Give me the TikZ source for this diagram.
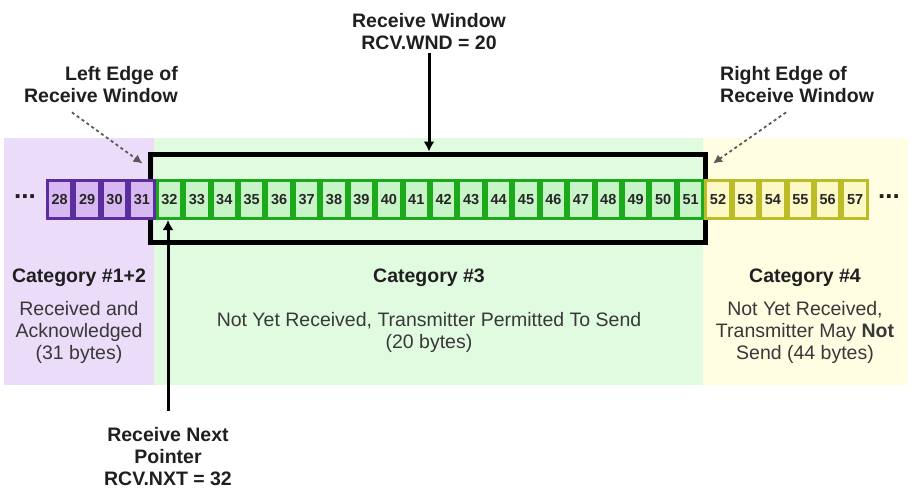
\documentclass[tikz,border=0pt]{standalone}
\usepackage{fontspec}
\setmainfont{Liberation Sans}
\usetikzlibrary{arrows.meta}

\definecolor{purpleback}{HTML}{EBDDF9}
\definecolor{greenback}{HTML}{E1FBE1}
\definecolor{yellowback}{HTML}{FFFDE2}
\definecolor{purpleline}{HTML}{5B2E9E}
\definecolor{purplecell}{HTML}{D8B8F2}
\definecolor{greenline}{HTML}{1CAA1C}
\definecolor{greencell}{HTML}{C8F5C8}
\definecolor{yellowline}{HTML}{BCBC28}
\definecolor{yellowcell}{HTML}{FCF9C6}

\tikzset{
	cell/.style={draw, line width=3pt, minimum width=24.4pt, minimum height=38pt, inner sep=0pt, text=black!85, font=\fontsize{14.5}{16}\selectfont\bfseries},
	boldtag/.style={inner sep=3pt, align=center, text=black!88, font=\fontsize{19.5}{22}\selectfont\bfseries},
	plaintext/.style={inner sep=3pt, align=center, text=black!78, font=\fontsize{19.5}{22}\selectfont},
	pointer/.style={line width=3pt, -{Latex[length=10pt,width=11pt]}},
	edgeptr/.style={line width=1.8pt, color=black!65, dash pattern=on 3pt off 3pt, -{Latex[length=9pt,width=9pt]}},
}

\begin{document}
\begin{tikzpicture}[x=1pt, y=-1pt]
		%%%%% START %%%%%
		
		\useasboundingbox (0,0) rectangle (921,501);
		\fill[white] (0,0) rectangle (921,501);
		
		\fill[purpleback] (4,138) rectangle (154,385);
		\fill[greenback] (154,138) rectangle (703,385);
		\fill[yellowback] (703,138) rectangle (908,385);
		
		\node[draw, line width=5pt, minimum width=555.5pt, minimum height=88pt, inner sep=0pt] (frame) at (427.75,198) {};
		
		\foreach \n in {28,...,31}
			\node[cell, draw=purpleline, fill=purplecell] (c\n) at ({59.7+(\n-28)*27.43}, 199.5) {\n};
		\foreach \n in {32,...,51}
			\node[cell, draw=greenline, fill=greencell] (c\n) at ({59.7+(\n-28)*27.43}, 199.5) {\n};
		\foreach \n in {52,...,57}
			\node[cell, draw=yellowline, fill=yellowcell] (c\n) at ({59.7+(\n-28)*27.43}, 199.5) {\n};
		
		\node[inner sep=0pt, text=black!88, font=\fontsize{26}{26}\selectfont\bfseries] (dotsleft) at (25,197) {...};
		\node[inner sep=0pt, text=black!88, font=\fontsize{26}{26}\selectfont\bfseries] (dotsright) at (889,197) {...};
		
		\node[boldtag] (wnd) at (429,32) {Receive Window\\RCV.WND = 20};
		\node[boldtag, align=right, anchor=east] (leftedge) at (181,85) {Left Edge of\\Receive Window};
		\node[boldtag, align=left, anchor=west] (rightedge) at (717,85) {Right Edge of\\Receive Window};
		\node[boldtag] (rnp) at (168,457) {Receive Next\\Pointer\\RCV.NXT = 32};
		
		\draw[pointer] (wnd.south) -- (wnd.south |- frame.north);
		\draw[pointer] ([yshift=14pt]rnp.north) -- (rnp.north |- c32.south);
		\draw[edgeptr] ([xshift=-29pt,yshift=-6pt]leftedge.south) -- ([xshift=-5pt,yshift=-12pt]frame.north west);
		\draw[edgeptr] ([xshift=-11pt,yshift=-6pt]rightedge.south) -- ([xshift=5pt,yshift=-12pt]frame.north east);
		
		\node[boldtag, anchor=base] (cat12) at (79,282) {Category \#1+2};
		\node[boldtag, anchor=base] (cat3) at (429,282) {Category \#3};
		\node[boldtag, anchor=base] (cat4) at (805,282) {Category \#4};
		
		\node[plaintext] (cat12txt) at (79,332) {Received and\\Acknowledged\\(31 bytes)};
		\node[plaintext] (cat3txt) at (429,332) {Not Yet Received, Transmitter Permitted To Send\\(20 bytes)};
		\node[plaintext] (cat4txt) at (805,332) {Not Yet Received,\\Transmitter May \textbf{Not}\\Send (44 bytes)};
		
		%%%%% END %%%%%
\end{tikzpicture}
\end{document}
